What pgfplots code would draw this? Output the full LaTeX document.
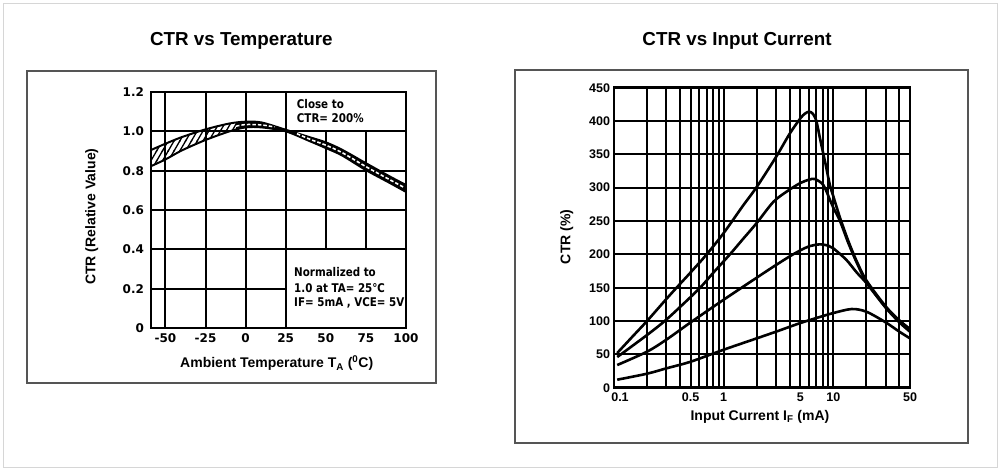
\documentclass[border=0pt]{standalone}
\usepackage{fontspec}
\setmainfont{Liberation Sans}
\newfontfamily\dvs{DejaVu Sans}
\newfontfamily\dvsc[FakeStretch=0.86]{DejaVu Sans}
\usepackage{pgfplots}
\pgfplotsset{compat=1.18}
\usetikzlibrary{patterns}
\pgfdeclarepatternformonly{hatch}{\pgfqpoint{-1pt}{-1pt}}{\pgfqpoint{6.8pt}{11pt}}{\pgfqpoint{5.8pt}{10pt}}{
  \pgfsetlinewidth{1.3pt}
  \pgfpathmoveto{\pgfqpoint{-0.58pt}{-1pt}}
  \pgfpathlineto{\pgfqpoint{6.38pt}{11pt}}
  \pgfusepath{stroke}}
\definecolor{framegray}{HTML}{555555}
\definecolor{bordergray}{HTML}{D6D6D6}
\begin{document}
\begin{tikzpicture}
\path[use as bounding box] (0pt,0pt) rectangle (1002pt,471pt);
\draw[bordergray, line width=1pt] (3pt,3pt) rectangle (997pt,467pt);
\draw[framegray, line width=1.8pt] (27pt,88pt) rectangle (436pt,400pt);
\draw[framegray, line width=1.8pt] (515pt,28pt) rectangle (968pt,401pt);
\node[anchor=base, inner sep=0pt, font=\bfseries\fontsize{18.8}{20}\selectfont] at (241.3pt,425pt) {CTR vs Temperature};
\node[anchor=base, inner sep=0pt, font=\bfseries\fontsize{18.8}{20}\selectfont] at (737pt,425pt) {CTR vs Input Current};

% ---------------- Left chart ----------------
\begin{axis}[
  at={(151pt,143pt)}, anchor=south west,
  width=255pt, height=236pt, scale only axis,
  xmin=-59, xmax=100, ymin=0, ymax=1.2,
  xtick={-50,-25,0,25,50,75,100},
  xticklabels={-50,-25,0,25,50,75,100},
  ytick={0,0.2,0.4,0.6,0.8,1.0,1.2},
  yticklabels={0,0.2,0.4,0.6,0.8,1.0,1.2},
  major tick length=0pt,
  grid=major,
  major grid style={black, line width=2pt},
  axis line style={black, line width=2.8pt},
  tick label style={font=\dvs\bfseries\fontsize{12}{13}\selectfont},
  xticklabel style={yshift=-2pt},
  yticklabel style={xshift=-3.5pt},
  xlabel={Ambient Temperature T\textsubscript{A} (\textsuperscript{0}C)},
  ylabel={CTR (Relative Value)},
  label style={font=\bfseries\fontsize{14}{16}\selectfont},
  xlabel style={at={(axis description cs:0.493,-0.1496)}, anchor=center},
  ylabel style={at={(axis description cs:-0.2325,0.472)}, anchor=center},
]
\fill[white] (axis cs:25.7,0.0072) rectangle (axis cs:99.1,0.395);
\fill[white] (axis cs:25.7,1.005) rectangle (axis cs:99.1,1.1928);
\addplot[draw=none, pattern=hatch, pattern color=black] coordinates {
 (-59,0.905) (-55,0.919) (-50,0.937) (-45,0.954) (-40,0.970) (-35,0.984) (-30,0.997)
 (-25,1.010) (-20,1.021) (-15,1.031) (-10,1.040) (-6,1.044)
 (-6,1.008) (-10,1.000) (-15,0.988) (-20,0.973) (-25,0.956) (-30,0.939) (-35,0.921)
 (-40,0.902) (-45,0.880) (-50,0.857) (-55,0.838) (-59,0.823)} -- cycle;
\addplot[draw=none, fill=black] coordinates {
 (-6,1.044) (0,1.049) (5,1.048) (10,1.045) (15,1.034) (20,1.021) (25,1.008) (30,0.995)
 (35,0.983) (40,0.970) (45,0.957) (50,0.944) (55,0.926) (60,0.907) (65,0.885) (70,0.861)
 (75,0.838) (80,0.815) (85,0.792) (90,0.770) (95,0.748) (100,0.727)
 (100,0.692) (95,0.714) (90,0.737) (85,0.758) (80,0.780) (75,0.803) (70,0.828) (65,0.853)
 (60,0.878) (55,0.897) (50,0.915) (45,0.933) (40,0.950) (35,0.967) (30,0.985) (25,1.000)
 (20,1.008) (15,1.015) (10,1.020) (5,1.021) (0,1.020) (-6,1.008)} -- cycle;
\addplot[black, line width=2pt, smooth] coordinates {
 (-59,0.905) (-50,0.937) (-40,0.970) (-25,1.010) (-10,1.040) (0,1.049) (10,1.045)
 (25,1.008) (40,0.970) (50,0.944) (60,0.907) (75,0.838) (90,0.770) (100,0.727)};
\addplot[black, line width=2pt, smooth] coordinates {
 (-59,0.823) (-50,0.857) (-40,0.902) (-25,0.956) (-10,1.000) (0,1.020) (10,1.020)
 (25,1.000) (40,0.950) (50,0.915) (60,0.878) (75,0.803) (90,0.737) (100,0.692)};
\addplot[white, line width=1.5pt, dash pattern=on 3.5pt off 2pt, smooth] coordinates {
 (-6,1.026) (0,1.0345) (10,1.0325) (18,1.022)};
\addplot[white, line width=1.6pt, dash pattern=on 3.5pt off 2pt, smooth] coordinates {
 (32,0.988) (40,0.960) (50,0.9295) (60,0.8925) (75,0.8205) (90,0.7535) (98.5,0.716)};
\end{axis}

\begin{scope}[font=\dvsc\bfseries\fontsize{12}{14}\selectfont]
\node[anchor=base west, inner sep=0pt] at (296.7pt,362pt) {Close to};
\node[anchor=base west, inner sep=0pt] at (296.7pt,348.3pt) {CTR= 200\%};
\node[anchor=base west, inner sep=0pt] at (294pt,194.3pt) {Normalized to};
\node[anchor=base west, inner sep=0pt] at (294pt,178.7pt) {1.0 at TA= 25℃};
\node[anchor=base west, inner sep=0pt] at (294pt,164.3pt) {IF= 5mA , VCE= 5V};
\end{scope}

% ---------------- Right chart ----------------
\begin{axis}[
  at={(614pt,83.3pt)}, anchor=south west,
  width=296pt, height=300pt, scale only axis,
  xmode=log, xmin=0.1, xmax=50, ymin=0, ymax=450,
  xtick={0.1,0.5,1,5,10,50},
  xticklabels={\hspace*{12pt}0.1,0.5,1,5,10,50},
  minor xtick={0.2,0.3,0.4,0.6,0.7,0.8,0.9,2,3,4,6,7,8,9,20,30,40},
  ytick={0,50,100,150,200,250,300,350,400,450},
  /pgf/number format/assume math mode=true,
  major tick length=0pt, minor tick length=0pt,
  grid=both,
  major grid style={black, line width=2pt},
  minor grid style={black, line width=2pt},
  axis line style={black, line width=2.8pt},
  tick label style={font=\bfseries\fontsize{12.5}{14}\selectfont},
  xticklabel style={yshift=-2pt},
  yticklabel style={xshift=-0.5pt},
  xlabel={Input Current I\textsubscript{F} (mA)},
  ylabel={CTR (\%)},
  label style={font=\bfseries\fontsize{14}{16}\selectfont},
  xlabel style={at={(axis description cs:0.493,-0.098)}, anchor=center},
  ylabel style={at={(axis description cs:-0.16,0.503)}, anchor=center},
]
\addplot[black, line width=2.6pt, smooth, tension=0.5] coordinates {
 (0.107,52) (0.15,78) (0.2,100) (0.3,133) (0.372,150) (0.5,173) (0.7,200) (1,232)
 (1.5,273) (2,301) (3,346) (4,381) (5,404) (5.5,411) (6,414) (6.5,411) (7,400)
 (7.6,372) (8.5,335) (9.3,304) (10,287) (11.5,255) (13.7,220) (16.3,190) (20,161)
 (30,122) (40,101) (50,88)};
\addplot[black, line width=2.6pt, smooth, tension=0.5] coordinates {
 (0.107,46) (0.2,79) (0.29,100) (0.4,121) (0.61,150) (0.8,172) (1.14,200) (1.5,223)
 (2,247) (2.85,279) (3.9,296) (5,307) (6,312) (6.8,313) (8.1,304) (9.3,282)
 (10,270) (11.5,250) (13.7,217) (16.3,188) (20,159) (30,121) (40,100) (50,86)};
\addplot[black, line width=2.6pt, smooth, tension=0.5] coordinates {
 (0.107,34) (0.2,54) (0.3,72) (0.5,98) (1,132) (2,165) (2.87,182) (4,197) (5,206)
 (6,212) (7.5,215) (9,213) (10,209) (13.1,192) (16.3,173) (20,157) (30,120)
 (40,98) (50,84)};
\addplot[black, line width=2.6pt, smooth, tension=0.5] coordinates {
 (0.107,12) (0.2,21) (0.3,29) (0.5,39) (1,57) (2,74) (3,84) (5,97) (7.5,106)
 (10,112) (14.7,118) (20,114) (30,98) (40,84) (50,74)};
\end{axis}
\end{tikzpicture}
\end{document}
